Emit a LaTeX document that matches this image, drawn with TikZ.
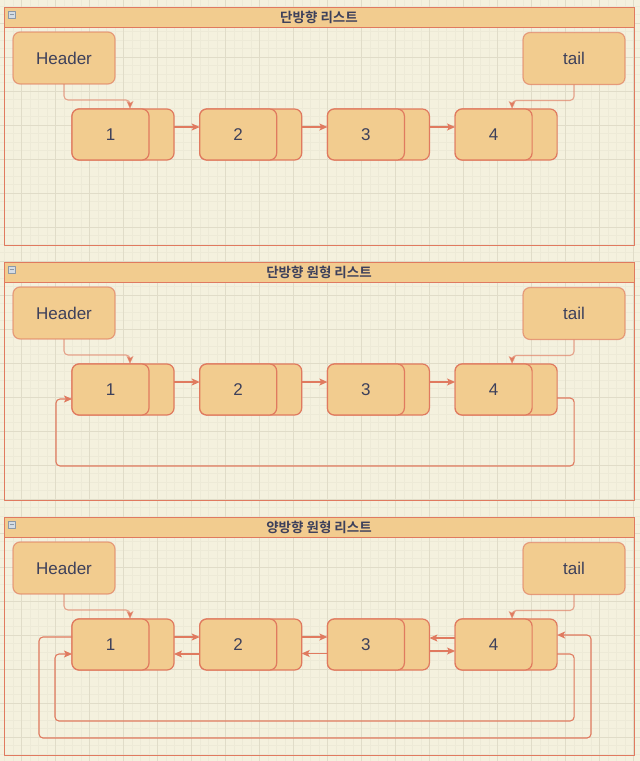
\documentclass[tikz,border=0pt]{standalone}
\usepackage{fontspec}
\setmainfont{Liberation Sans}
\newfontfamily\kofont{Noto Sans CJK KR Bold}
\usetikzlibrary{arrows.meta}
\definecolor{paper}{HTML}{F4F1DE}
\definecolor{gridminor}{HTML}{EDEAD7}
\definecolor{gridmajor}{HTML}{E0DCC8}
\definecolor{boxfill}{HTML}{F2CC8F}
\definecolor{boxline}{HTML}{E07A5F}
\definecolor{ink}{HTML}{3D405B}
\definecolor{iconfill}{HTML}{D5DCE4}
\definecolor{iconline}{HTML}{8C98A6}
\begin{document}
\begin{tikzpicture}[x=1pt,y=-1pt,>={Stealth[length=8pt,width=7pt,inset=1.8pt]},line join=round,
  box/.style={draw=boxline,fill=boxfill,line width=1.2pt,rounded corners=7pt,
    inner sep=0pt,outer sep=0pt,text=ink,font=\fontsize{17}{20}\selectfont},
  headbox/.style={box,draw opacity=0.65,minimum width=102pt,minimum height=52pt},
  backbox/.style={box,minimum width=102pt,minimum height=51pt},
  frontbox/.style={box,minimum width=77pt,minimum height=51pt},
  panel/.style={draw=boxline,line width=1pt,inner sep=0pt,outer sep=0pt,
    minimum width=630pt,minimum height=238pt},
  titlebar/.style={draw=boxline,fill=boxfill,line width=1pt,inner sep=0pt,outer sep=0pt,
    minimum width=630pt,minimum height=20pt,text=ink,font=\kofont\fontsize{13.5}{15}\selectfont},
  icon/.style={draw=iconline,fill=iconfill,line width=0.8pt},
  link/.style={->,draw=boxline,line width=1.1pt,rounded corners=4pt},
  headlink/.style={link,draw opacity=0.65},
]
  \useasboundingbox (0,0) rectangle (640,761);
  \fill[paper] (0,0) rectangle (640,761);
%%
  % Grid
  \foreach \gx in {4.5,13,...,640} \draw[gridminor,line width=0.5pt] (\gx,0) -- (\gx,761);
  \foreach \gy in {6,14.5,...,761} \draw[gridminor,line width=0.5pt] (0,\gy) -- (640,\gy);
  \foreach \gx in {21.5,55.5,...,640} \draw[gridmajor,line width=0.7pt] (\gx,0) -- (\gx,761);
  \foreach \gy in {23,57,...,761} \draw[gridmajor,line width=0.7pt] (0,\gy) -- (640,\gy);
%%
  % Panel: 단방향 리스트
  \node[panel] (p1) at (319,126) {};
  \node[titlebar] (t1) at (319,17) {단방향 리스트};
  \draw[icon] (8,11) rectangle (15.5,18.5);
  \draw[iconline,line width=0.9pt] (9.5,14.75) -- (14,14.75);
  % Node: hd1
  \node[headbox] (hd1) at (64,58) {Header};
  % Node: tl1
  \node[headbox] (tl1) at (574,58.5) {tail};
  % Node: n11 .. n14
  \node[backbox] (b11) at (123,134.5) {};
  \node[frontbox] (n11) at (110.5,134.5) {1};
  \node[backbox] (b12) at (250.7,134.5) {};
  \node[frontbox] (n12) at (238.2,134.5) {2};
  \node[backbox] (b13) at (378.4,134.5) {};
  \node[frontbox] (n13) at (365.9,134.5) {3};
  \node[backbox] (b14) at (506.1,134.5) {};
  \node[frontbox] (n14) at (493.6,134.5) {4};
  % Edge: hd1 -> n11
  \draw[headlink] (hd1.south) -- ++(0,16) -| ([xshift=-19pt]n11.north east);
  % Edge: tl1 -> n14
  \draw[headlink] (tl1.south) -- ++(0,16) -| ([xshift=-20pt]n14.north east);
  % Edge: n11 -> n12 -> n13 -> n14
  \draw[link] ([yshift=7.5pt]b11.east) -- ([yshift=7.5pt]n12.west);
  \draw[link] ([yshift=7.5pt]b12.east) -- ([yshift=7.5pt]n13.west);
  \draw[link] ([yshift=7.5pt]b13.east) -- ([yshift=7.5pt]n14.west);
%%
  % Panel: 단방향 원형 리스트
  \node[panel] (p2) at (319,381) {};
  \node[titlebar] (t2) at (319,272) {단방향 원형 리스트};
  \draw[icon] (8,266) rectangle (15.5,273.5);
  \draw[iconline,line width=0.9pt] (9.5,269.75) -- (14,269.75);
  % Node: hd2
  \node[headbox] (hd2) at (64,313) {Header};
  % Node: tl2
  \node[headbox] (tl2) at (574,313.5) {tail};
  % Node: n21 .. n24
  \node[backbox] (b21) at (123,389.5) {};
  \node[frontbox] (n21) at (110.5,389.5) {1};
  \node[backbox] (b22) at (250.7,389.5) {};
  \node[frontbox] (n22) at (238.2,389.5) {2};
  \node[backbox] (b23) at (378.4,389.5) {};
  \node[frontbox] (n23) at (365.9,389.5) {3};
  \node[backbox] (b24) at (506.1,389.5) {};
  \node[frontbox] (n24) at (493.6,389.5) {4};
  % Edge: hd2 -> n21
  \draw[headlink] (hd2.south) -- ++(0,16) -| ([xshift=-19pt]n21.north east);
  % Edge: tl2 -> n24
  \draw[headlink] (tl2.south) -- ++(0,16) -| ([xshift=-20pt]n24.north east);
  % Edge: n21 -> n22 -> n23 -> n24
  \draw[link] ([yshift=7.5pt]b21.east) -- ([yshift=7.5pt]n22.west);
  \draw[link] ([yshift=7.5pt]b22.east) -- ([yshift=7.5pt]n23.west);
  \draw[link] ([yshift=7.5pt]b23.east) -- ([yshift=7.5pt]n24.west);
  % Edge: n24 -> n21
  \draw[link] ([yshift=-8.5pt]b24.east) -- ++(17,0) |- (56,466) |- ([yshift=-9.5pt]n21.west);
%%
  % Panel: 양방향 원형 리스트
  \node[panel] (p3) at (319,636) {};
  \node[titlebar] (t3) at (319,527) {양방향 원형 리스트};
  \draw[icon] (8,521) rectangle (15.5,528.5);
  \draw[iconline,line width=0.9pt] (9.5,524.75) -- (14,524.75);
  % Node: hd3
  \node[headbox] (hd3) at (64,568) {Header};
  % Node: tl3
  \node[headbox] (tl3) at (574,568.5) {tail};
  % Node: n31 .. n34
  \node[backbox] (b31) at (123,644.5) {};
  \node[frontbox] (n31) at (110.5,644.5) {1};
  \node[backbox] (b32) at (250.7,644.5) {};
  \node[frontbox] (n32) at (238.2,644.5) {2};
  \node[backbox] (b33) at (378.4,644.5) {};
  \node[frontbox] (n33) at (365.9,644.5) {3};
  \node[backbox] (b34) at (506.1,644.5) {};
  \node[frontbox] (n34) at (493.6,644.5) {4};
  % Edge: hd3 -> n31
  \draw[headlink] (hd3.south) -- ++(0,16) -| ([xshift=-19pt]n31.north east);
  % Edge: tl3 -> n34
  \draw[headlink] (tl3.south) -- ++(0,16) -| ([xshift=-20pt]n34.north east);
  % Edge: n31 <-> n32
  \draw[link] ([yshift=7.5pt]b31.east) -- ([yshift=7.5pt]n32.west);
  \draw[link] ([yshift=-9.5pt]n32.west) -- ([yshift=-9.5pt]b31.east);
  % Edge: n32 <-> n33
  \draw[link] ([yshift=7.5pt]b32.east) -- ([yshift=7.5pt]n33.west);
  \draw[link] ([yshift=-9pt]n33.west) -- ([yshift=-9pt]b32.east);
  % Edge: n33 <-> n34
  \draw[link] ([yshift=6.5pt]n34.west) -- ([yshift=6.5pt]b33.east);
  \draw[link] ([yshift=-6.5pt]b33.east) -- ([yshift=-6.5pt]n34.west);
  % Edge: n34 -> n31
  \draw[link] ([yshift=-9.5pt]b34.east) -- ++(17,0) |- (55,721) |- ([yshift=-9.5pt]n31.west);
  % Edge: n31 -> n34
  \draw[link] ([yshift=7.5pt]n31.west) -- ++(-33,0) |- (591,738) |- ([yshift=9.5pt]b34.east);
%
\end{tikzpicture}
\end{document}
